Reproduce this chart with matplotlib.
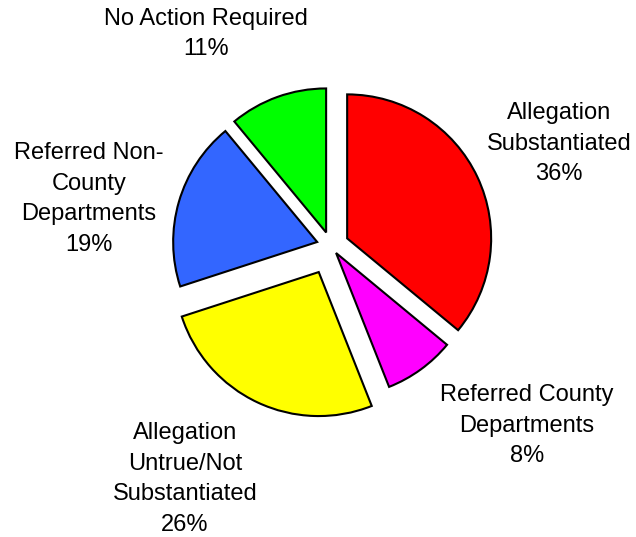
import matplotlib
matplotlib.use("Agg")
import matplotlib.pyplot as plt

# data, clockwise from 12 o'clock
categories = [
    "Allegation\nSubstantiated",
    "Referred County\nDepartments",
    "Allegation\nUntrue/Not\nSubstantiated",
    "Referred Non-\nCounty\nDepartments",
    "No Action Required",
]
percent = [36, 8, 26, 19, 11]

# styling / layout
colors = ["#FF0000", "#FF00FF", "#FFFF00", "#3366FF", "#00FF00"]
explode_frac = [0.124, 0.06, 0.20, 0.10, 0.10]  # fraction of radius
W, H = 636, 537
center_px = (331, 246)    # pixel position of pie centre (y down)
radius_px = 144
label_px = [(559, 144), (527, 426), (185, 479), (89, 199), (206, 34)]

plt.rcParams['font.family'] = ['Liberation Sans', 'DejaVu Sans']

fig = plt.figure(figsize=(W / 100, H / 100), dpi=100)
ax = fig.add_axes([0, 0, 1, 1])

cx, cy = center_px[0], H - center_px[1]
ax.pie(percent, colors=colors,
       explode=[f * radius_px for f in explode_frac],
       startangle=90, counterclock=False,
       center=(cx, cy), radius=radius_px,
       wedgeprops=dict(edgecolor="black", linewidth=1.5))

for name, pct, (lx, ly) in zip(categories, percent, label_px):
    ax.text(lx, H - ly, f"{name}\n{pct}%", ha="center", va="center",
            multialignment="center", fontsize=17, linespacing=1.5,
            color="black")

ax.set_xlim(0, W)
ax.set_ylim(0, H)
ax.set_aspect("equal")
ax.axis("off")

fig.savefig("out.png", dpi=100, facecolor="white")
